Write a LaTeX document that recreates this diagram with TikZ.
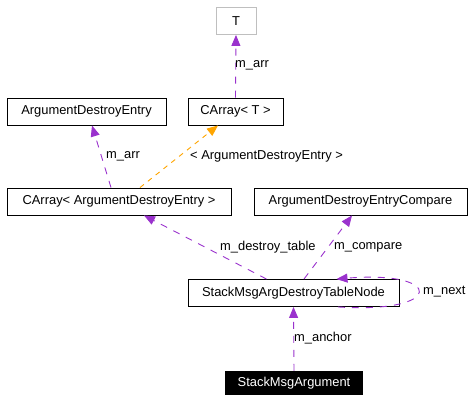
\documentclass[tikz,border=0pt]{standalone}
\usepackage{fontspec}
\setmainfont{Liberation Sans}
\usetikzlibrary{arrows.meta}
\definecolor{usecol}{HTML}{9A32CD}
\definecolor{tplcol}{HTML}{FFA500}
\definecolor{tparcol}{HTML}{BFBFBF}
\begin{document}
\begin{tikzpicture}[x=1pt,y=-1pt,
    font=\fontsize{12.9}{14}\selectfont,
    clsbox/.style={draw,rectangle,line width=0.9pt,minimum height=27pt,inner sep=2pt},
    tparbox/.style={clsbox,draw=tparcol},
    rootbox/.style={rectangle,fill=black,text=white,minimum height=24pt,inner sep=2pt},
    useedge/.style={draw=usecol,line width=0.9pt,dash pattern=on 7pt off 7pt,
        -{Triangle[length=11pt,width=9pt,fill=usecol]}},
    tmpledge/.style={useedge,draw=tplcol,dash pattern=on 5pt off 5pt,
        -{Triangle[length=11pt,width=9pt,fill=tplcol]}},
    elabel/.style={anchor=west,inner sep=0pt}]
    \useasboundingbox (0,0) rectangle (475,403);
    \node[tparbox,minimum width=40pt] (t) at (236,21) {T};
    \node[clsbox,minimum width=95pt] (cat) at (235.5,111.5) {CArray< T >};
    \node[clsbox,minimum width=159pt] (ade) at (86.5,111.5) {ArgumentDestroyEntry};
    \node[clsbox,minimum width=224pt] (caade) at (119,201.5) {CArray< ArgumentDestroyEntry >};
    \node[clsbox,minimum width=213pt] (adec) at (360.5,201.5) {ArgumentDestroyEntryCompare};
    \node[clsbox,minimum width=211pt] (tnode) at (293.5,293) {StackMsgArgDestroyTableNode};
    \node[rootbox,minimum width=138pt] (sma) at (294,383) {StackMsgArgument};
    \draw[useedge] (cat.north) -- (t.south);
    \draw[useedge] ([xshift=-8pt]caade.north) -- ([xshift=5.5pt]ade.south);
    \draw[tmpledge] ([xshift=21pt]caade.north) -- ([xshift=-17.5pt]cat.south);
    \draw[useedge] ([xshift=-27pt]tnode.north) -- ([xshift=25pt]caade.south);
    \draw[useedge] ([xshift=10.5pt]tnode.north) -- ([xshift=-8.5pt]adec.south);
    \draw[useedge] ([xshift=44.5pt]tnode.south) .. controls (445,314) and (445,270) .. ([xshift=43pt]tnode.north);
    \draw[useedge] (sma.north) -- (tnode.south);
    \node[elabel] (l1) at (235,65) {m\_arr};
    \node[elabel] (l2) at (106,156) {m\_arr};
    \node[elabel] (l3) at (190,156) {< ArgumentDestroyEntry >};
    \node[elabel] (l4) at (220,247) {m\_destroy\_table};
    \node[elabel] (l5) at (334,247) {m\_compare};
    \node[elabel] (l6) at (423,292) {m\_next};
    \node[elabel] (l7) at (294,338) {m\_anchor};
\end{tikzpicture}
\end{document}
